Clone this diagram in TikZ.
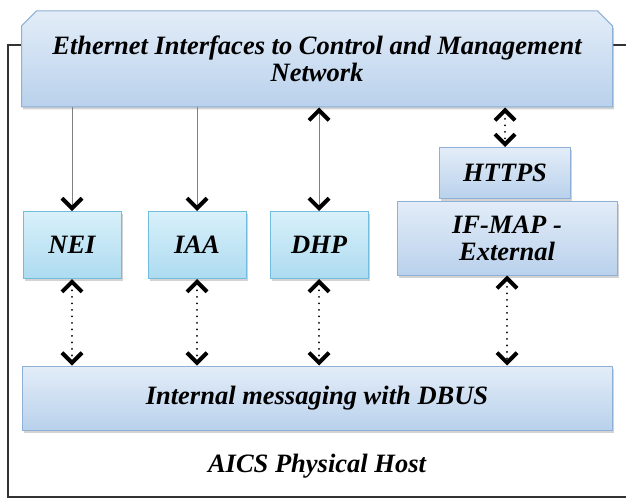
\documentclass[tikz,border=0pt]{standalone}
\usepackage{fontspec}
\newfontfamily\timesfont{Liberation Serif}
\usetikzlibrary{arrows.meta,shapes.misc,shadows}

\definecolor{paleblue}{HTML}{E3EDF8}
\definecolor{midblue}{HTML}{B9D1EC}
\definecolor{edgeblue}{HTML}{8EAFD6}
\definecolor{palecyan}{HTML}{D8F0FA}
\definecolor{midcyan}{HTML}{ADDBF0}
\definecolor{edgecyan}{HTML}{72BDDD}

\tikzset{
  boxfont/.style={font=\timesfont\fontsize{26.5}{27}\selectfont\bfseries\itshape},
  layerbox/.style={draw=edgeblue, line width=1pt, top color=paleblue, bottom color=midblue,
    drop shadow={opacity=0.35, shadow xshift=1.5pt, shadow yshift=-2.5pt},
    align=center, inner sep=0pt, boxfont},
  modbox/.style={layerbox, draw=edgecyan, top color=palecyan, bottom color=midcyan,
    minimum width=98pt, minimum height=67pt},
  vtip/.tip={Straight Barb[length=10pt, width=20pt, line width=4pt, color=black]},
  link/.style={draw=gray, line width=0.8pt},
  msg/.style={black, line width=2.2pt, dash pattern=on 0.01pt off 6.5pt, line cap=round}
}

\begin{document}
\begin{tikzpicture}[x=1pt, y=-1pt]

    \useasboundingbox (0,0) rectangle (626,500);

    % host frame
    \draw[line width=2pt, draw=black!80] (8,45) rectangle (640,497);

    % network interfaces
    \node[layerbox, chamfered rectangle, chamfered rectangle corners={north west, north east},
          chamfered rectangle xsep=12pt, minimum width=591pt, minimum height=96pt]
          (eth) at (317,59) {Ethernet Interfaces to Control and Management\\Network};

    % modules
    \node[modbox] (nei) at (72,245) {NEI};
    \node[modbox] (iaa) at (197,245) {IAA};
    \node[modbox] (dhp) at (319,245) {DHP};

    \node[layerbox, minimum width=131pt, minimum height=51pt] (https) at (505,173) {HTTPS};
    \node[layerbox, minimum width=220pt, minimum height=74pt] (ifmap) at (507,238) {IF-MAP -\\External};

    % message bus
    \node[layerbox, minimum width=590pt, minimum height=64pt] (dbus) at (317,398) {Internal messaging with DBUS};

    \node[boxfont] (host) at (317,466) {AICS Physical Host};

    % network links
    \draw[link, -vtip] (nei.north |- eth.south) -- (nei.north);
    \draw[link, -vtip] (iaa.north |- eth.south) -- (iaa.north);
    \draw[link, vtip-vtip] (dhp.north |- eth.south) -- (dhp.north);
    \draw[msg, vtip-vtip] (https.north |- eth.south) -- (https.north);

    % bus links
    \foreach \m in {nei, iaa, dhp, ifmap}
        \draw[msg, vtip-vtip] (\m.south) -- (\m.south |- dbus.north);

\end{tikzpicture}
\end{document}
